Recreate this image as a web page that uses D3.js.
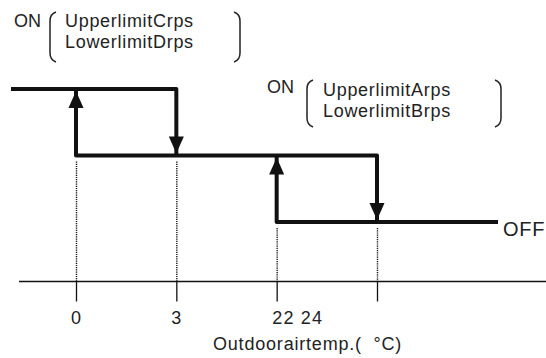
<!DOCTYPE html>
<html>
<head>
<meta charset="utf-8">
<script src="https://cdn.jsdelivr.net/npm/d3@7/dist/d3.min.js"></script>
<style>
  body { margin: 0; background: #fff; }
  svg { display: block; font-family: "Liberation Sans", Arial, Helvetica, sans-serif; }
</style>
</head>
<body>
<div id="chart"></div>
<script>
// switching thresholds on the outdoor air temperature axis (schematic, not to scale)
var thresholds = [0, 3, 22, 24];
var tickLabels = ["0", "3", "22 24", ""];
// operating levels, top to bottom
var levels = ["CD", "AB", "OFF"];
var levelTexts = [
  {on: "ON", upper: "UpperlimitCrps", lower: "LowerlimitDrps"},
  {on: "ON", upper: "UpperlimitArps", lower: "LowerlimitBrps"}
];
// hysteresis steps, arrow drawn on the vertical towards "to"
var steps = [
  {t: 3,  from: "CD", to: "AB"},
  {t: 0,  from: "AB", to: "CD"},
  {t: 24, from: "AB", to: "OFF"},
  {t: 22, from: "OFF", to: "AB"}
];
var axisTitle = "Outdoorairtemp.(\u00a0 \u00b0C)";

var width = 546, height = 358;
var axisY = 281.5;

var svg = d3.select("#chart").append("svg")
  .attr("width", width)
  .attr("height", height);

var x = d3.scalePoint().domain(thresholds).range([76, 377]);
var y = d3.scalePoint().domain(levels).range([89, 222]);

var ink = "#111";

var line = d3.line().x(function(d) { return d[0]; }).y(function(d) { return d[1]; });

// each vertical joined with the run it starts from
var paths = [
  [[11, y("CD")], [x(3), y("CD")], [x(3), y("AB")]],
  [[x(0), y("CD")], [x(0), y("AB")], [x(24), y("AB")], [x(24), y("OFF")]],
  [[x(22), y("AB")], [x(22), y("OFF")], [498, y("OFF")]]
];

// dotted guides from lower level down to the axis
svg.selectAll(".guide")
  .data(steps)
  .enter()
  .append("line")
    .attr("class", "guide")
    .attr("x1", function(d) { return x(d.t) + 0.5; })
    .attr("x2", function(d) { return x(d.t) + 0.5; })
    .attr("y1", function(d) { return Math.max(y(d.from), y(d.to)) + 6; })
    .attr("y2", axisY)
    .attr("stroke", "#111")
    .attr("stroke-width", 1.4)
    .attr("stroke-dasharray", "1.2,1");

svg.selectAll(".step")
  .data(paths)
  .enter()
  .append("path")
    .attr("class", "step")
    .attr("d", line)
    .attr("fill", "none")
    .attr("stroke", ink)
    .attr("stroke-width", 4)
    .attr("stroke-linejoin", "round");

// arrow heads, tip touching the target level
svg.selectAll(".head")
  .data(steps)
  .enter()
  .append("path")
    .attr("class", "head")
    .attr("fill", ink)
    .attr("d", function(d) {
      var cx = x(d.t);
      var dir = y(d.to) < y(d.from) ? 1 : -1; // 1 = pointing up
      var tip = y(d.to) + dir * 2;
      var base = tip + dir * 17;
      return "M" + cx + "," + tip + "L" + (cx - 7.5) + "," + base + "L" + (cx + 7.5) + "," + base + "Z";
    });

// OFF label (runs off the right edge, as in the original)
svg.append("text")
  .attr("x", 503)
  .attr("y", y("OFF") + 14)
  .attr("font-size", 20)
  .attr("letter-spacing", 0.8)
  .attr("fill", "#222")
  .text("OFF");

// axis
svg.append("line")
  .attr("x1", 19).attr("x2", width)
  .attr("y1", axisY).attr("y2", axisY)
  .attr("stroke", ink)
  .attr("stroke-width", 1.3);

var axis = svg.append("g")
  .attr("transform", "translate(0," + axisY + ")")
  .call(d3.axisBottom(x).tickSize(20).tickSizeOuter(0)
    .tickFormat(function(d, i) { return tickLabels[i]; }));
axis.select(".domain").remove();
axis.selectAll(".tick line").attr("stroke", ink).attr("stroke-width", 1.3);
axis.selectAll(".tick text")
  .attr("y", 42)
  .attr("dy", 0)
  .attr("font-size", 18)
  .attr("letter-spacing", 1.2)
  .attr("font-family", "Liberation Sans, Arial, sans-serif")
  .attr("fill", "#222")
  .attr("text-anchor", function(d, i) { return tickLabels[i].indexOf(" ") > 0 ? "start" : "middle"; })
  .attr("x", function(d, i) { return tickLabels[i].indexOf(" ") > 0 ? -5 : 0; });

svg.append("text")
  .attr("x", 213)
  .attr("y", 350)
  .attr("font-size", 18)
  .attr("letter-spacing", 0.8)
  .attr("fill", "#222")
  .text(axisTitle);

// level annotations with brackets
var boxes = [
  {on: [14, 27], left: 50, right: 234, top: 12, bottom: 62, tx: 65, ty: 27},
  {on: [267, 93], left: 307, right: 495, top: 80, bottom: 127, tx: 323, ty: 96}
];

function bracket(xe, top, bottom, side) {
  var w = 6 * side;
  return "M" + (xe + w) + "," + top +
    "Q" + xe + "," + (top + 2) + " " + xe + "," + (top + 9) +
    "L" + xe + "," + (bottom - 9) +
    "Q" + xe + "," + (bottom - 2) + " " + (xe + w) + "," + bottom;
}

var notes = svg.selectAll(".note")
  .data(levelTexts)
  .enter()
  .append("g")
    .attr("class", "note");

notes.each(function(d, i) {
  var g = d3.select(this), b = boxes[i];
  g.append("text").attr("x", b.on[0]).attr("y", b.on[1])
    .attr("font-size", 18).attr("fill", "#222").text(d.on);
  g.append("text").attr("x", b.tx).attr("y", b.ty)
    .attr("font-size", 18).attr("letter-spacing", 0.7).attr("fill", "#222").text(d.upper);
  g.append("text").attr("x", b.tx).attr("y", b.ty + 21)
    .attr("font-size", 18).attr("letter-spacing", 0.7).attr("fill", "#222").text(d.lower);
  g.append("path").attr("d", bracket(b.left, b.top, b.bottom, 1))
    .attr("fill", "none").attr("stroke", "#222").attr("stroke-width", 1.5);
  g.append("path").attr("d", bracket(b.right + 6, b.top, b.bottom, -1))
    .attr("fill", "none").attr("stroke", "#222").attr("stroke-width", 1.5);
});
</script>
</body>
</html>
